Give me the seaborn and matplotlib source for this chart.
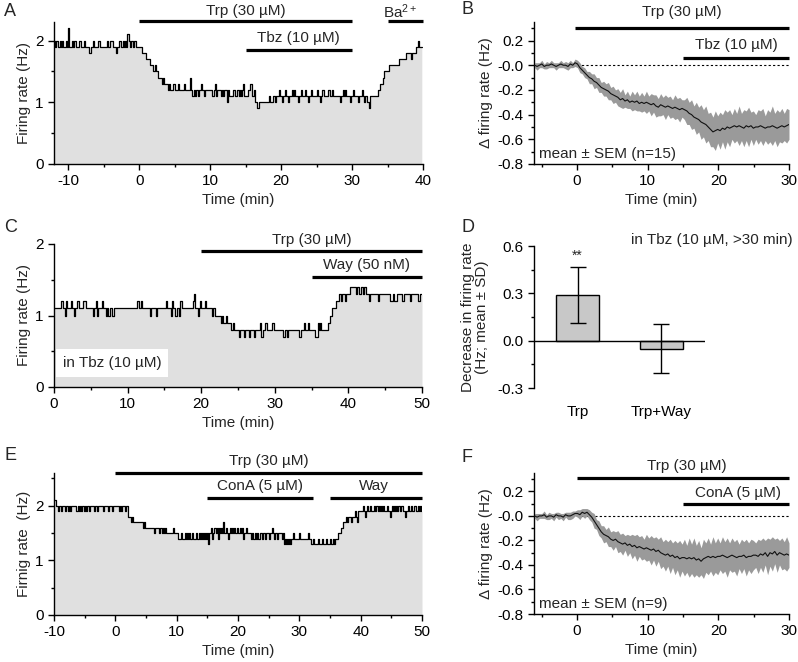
import numpy as np
import pandas as pd
import matplotlib
matplotlib.use("Agg")
import matplotlib.pyplot as plt
import seaborn as sns
from matplotlib.ticker import MultipleLocator, FuncFormatter

# ---- data ----
# firing rate traces, 10 s bins, units of 0.1 Hz, one row per two minutes
rate_a_start = -12
rate_a = [
    20, 19, 20, 19, 19, 20,  19, 20, 19, 19, 20, 19,   # -12
    22, 19, 19, 20, 19, 20,  20, 19, 19, 20, 20, 19,   # -10
    19, 20, 19, 19, 19, 19,  18, 19, 19, 20, 19, 19,   # -8
    19, 20, 20, 19, 19, 19,  19, 19, 19, 20, 19, 20,   # -6
    20, 20, 19, 19, 18, 19,  19, 20, 20, 19, 20, 19,   # -4
    20, 19, 21, 20, 19, 20,  20, 19, 20, 19, 19, 19,   # -2
    19, 19, 18, 18, 18, 18,  17, 17, 17, 16, 16, 16,   # 0
    15, 16, 15, 15, 14, 14,  14, 13, 14, 13, 13, 13,   # 2
    12, 13, 12, 12, 12, 13,  12, 12, 12, 13, 12, 12,   # 4
    12, 12, 13, 12, 12, 12,  12, 14, 12, 11, 12, 11,   # 6
    12, 12, 11, 12, 13, 12,  12, 11, 12, 12, 12, 12,   # 8
    12, 12, 11, 12, 13, 11,  12, 12, 12, 11, 12, 11,   # 10
    12, 12, 10, 12, 11, 11,  11, 12, 12, 11, 11, 12,   # 12
    11, 12, 11, 12, 13, 11,  11, 11, 12, 12, 13, 11,   # 14
    11, 12, 10, 10, 9, 10,   10, 10, 10, 10, 10, 10,   # 16
    10, 10, 11, 10, 10, 11,  11, 10, 11, 11, 12, 11,   # 18
    11, 10, 11, 12, 11, 11,  10, 11, 11, 12, 11, 12,   # 20
    11, 11, 10, 11, 11, 12,  11, 11, 12, 11, 11, 10,   # 22
    11, 12, 11, 11, 11, 11,  12, 11, 11, 10, 11, 12,   # 24
    11, 11, 11, 11, 12, 11,  11, 12, 11, 11, 11, 11,   # 26
    11, 11, 10, 11, 12, 11,  12, 11, 11, 11, 10, 11,   # 28
    11, 12, 11, 11, 11, 10,  11, 11, 12, 11, 10, 11,   # 30
    11, 10, 9, 11, 11, 11,   11, 11, 11, 11, 12, 12,   # 32
    13, 13, 14, 15, 15, 15,  15, 16, 16, 16, 16, 16,   # 34
    16, 16, 16, 16, 17, 17,  17, 17, 17, 17, 18, 18,   # 36
    18, 18, 17, 18, 18, 18,  19, 19, 20, 19, 19,       # 38
]

rate_c_start = 0
rate_c = [
    11, 11, 11, 11, 11, 11,  12, 11, 11, 10, 12, 11,   # 0
    11, 11, 12, 11, 10, 11,  11, 12, 11, 11, 11, 11,   # 2
    12, 12, 11, 11, 11, 11,  11, 11, 10, 11, 12, 10,   # 4
    11, 11, 11, 12, 11, 11,  10, 11, 10, 10, 11, 10,   # 6
    10, 11, 11, 11, 11, 11,  11, 11, 11, 11, 11, 11,   # 8
    11, 11, 11, 11, 11, 11,  11, 11, 12, 11, 11, 12,   # 10
    11, 11, 11, 11, 11, 11,  10, 11, 11, 11, 11, 10,   # 12
    11, 11, 11, 11, 11, 11,  11, 12, 11, 11, 11, 10,   # 14
    12, 11, 11, 10, 11, 11,  10, 12, 11, 11, 11, 11,   # 16
    11, 11, 11, 11, 11, 12,  13, 11, 11, 10, 11, 12,   # 18
    11, 11, 11, 12, 11, 11,  11, 11, 11, 10, 11, 10,   # 20
    10, 10, 10, 10, 9, 10,   9, 9, 10, 9, 9, 9,        # 22
    8, 8, 9, 8, 8, 8,        8, 7, 8, 8, 8, 7,         # 24
    8, 8, 8, 7, 8, 8,        8, 7, 8, 8, 8, 8,         # 26
    9, 7, 8, 8, 9, 9,        8, 8, 8, 8, 9, 8,         # 28
    8, 8, 8, 8, 8, 8,        8, 7, 8, 8, 7, 8,         # 30
    8, 8, 8, 8, 8, 8,        8, 8, 7, 8, 8, 8,         # 32
    9, 8, 8, 9, 8, 8,        8, 8, 8, 7, 7, 9,         # 34
    8, 9, 8, 8, 8, 8,        8, 9, 9, 10, 10, 11,      # 36
    11, 11, 12, 12, 13, 13,  12, 13, 13, 12, 13, 13,   # 38
    13, 14, 14, 14, 14, 14,  13, 14, 14, 13, 14, 14,   # 40
    13, 14, 13, 13, 13, 12,  13, 13, 13, 13, 13, 13,   # 42
    12, 13, 13, 13, 13, 13,  13, 13, 13, 13, 12, 12,   # 44
    13, 12, 12, 12, 13, 13,  13, 13, 12, 13, 13, 13,   # 46
    13, 13, 12, 13, 13, 13,  13, 13, 13, 12, 13, 13,   # 48
]

rate_e_start = -10
rate_e = [
    21, 21, 20, 20, 19, 20,  20, 19, 20, 20, 20, 19,   # -10
    20, 20, 19, 20, 19, 20,  20, 20, 20, 20, 19, 20,   # -8
    19, 20, 19, 20, 20, 19,  20, 19, 20, 20, 19, 20,   # -6
    20, 20, 20, 19, 20, 20,  19, 20, 20, 20, 20, 20,   # -4
    19, 20, 20, 20, 20, 19,  20, 20, 20, 19, 20, 20,   # -2
    20, 20, 20, 20, 19, 20,  19, 20, 20, 19, 20, 20,   # 0
    18, 18, 18, 17, 18, 17,  17, 17, 17, 17, 17, 17,   # 2
    17, 17, 17, 16, 17, 16,  16, 16, 16, 16, 16, 16,   # 4
    16, 16, 15, 16, 16, 16,  16, 15, 16, 16, 15, 16,   # 6
    15, 16, 15, 15, 15, 15,  15, 15, 16, 15, 15, 15,   # 8
    15, 14, 14, 14, 15, 14,  14, 14, 15, 14, 15, 14,   # 10
    15, 14, 14, 15, 14, 14,  14, 15, 14, 14, 15, 14,   # 12
    15, 14, 15, 14, 15, 14,  15, 13, 15, 15, 16, 14,   # 14
    15, 16, 15, 16, 14, 16,  15, 16, 15, 17, 15, 15,   # 16
    16, 15, 14, 15, 16, 15,  16, 15, 16, 15, 15, 16,   # 18
    15, 15, 16, 15, 16, 14,  15, 15, 16, 15, 15, 15,   # 20
    15, 14, 15, 14, 14, 15,  14, 15, 14, 14, 15, 14,   # 22
    15, 15, 14, 15, 15, 15,  14, 15, 15, 16, 15, 14,   # 24
    15, 15, 14, 15, 15, 15,  15, 14, 15, 13, 14, 13,   # 26
    14, 13, 14, 13, 14, 14,  15, 14, 14, 14, 14, 14,   # 28
    15, 14, 14, 14, 14, 14,  14, 14, 15, 14, 14, 13,   # 30
    13, 14, 13, 13, 13, 13,  14, 13, 13, 13, 14, 13,   # 32
    13, 13, 14, 13, 13, 13,  14, 13, 13, 14, 13, 14,   # 34
    14, 14, 15, 15, 15, 16,  16, 17, 17, 17, 18, 17,   # 36
    18, 18, 18, 17, 18, 18,  19, 18, 17, 19, 19, 19,   # 38
    19, 19, 20, 19, 18, 19,  20, 19, 19, 20, 19, 19,   # 40
    19, 20, 19, 20, 20, 19,  20, 19, 20, 19, 20, 19,   # 42
    19, 19, 20, 19, 19, 18,  19, 20, 19, 20, 19, 20,   # 44
    19, 20, 19, 20, 20, 19,  19, 18, 19, 19, 20, 19,   # 46
    19, 20, 19, 19, 20, 20,  19, 19, 20, 19, 20, 19,   # 48
]

# averaged change in firing rate, 20 s bins from -6 to 30 min, units of 0.01 Hz
delta_b_mean = [
    0, -1, 0,   1, -1, 0,   0, 1, 0,   -1, 0, 1,   0, 0, -1,   1, 0, 2,        # -6
    1, -2, -4,   -6, -8, -10,   -11, -13, -14,   -16, -18, -19,                 # 0
    -20, -21, -23,   -24, -25, -26,   -28, -27, -29,   -28, -30, -29,           # 4
    -30, -29, -31,   -30, -31, -30,   -31, -32, -31,   -33, -34, -32,           # 8
    -33, -34, -33,   -34, -35, -34,   -35, -36, -35,   -36, -37, -39,           # 12
    -40, -42, -43,   -44, -46, -47,   -48, -50, -52,   -54, -53, -52,           # 16
    -53, -51, -52,   -50, -51, -50,   -49, -50, -49,   -50, -51, -49,           # 20
    -50, -49, -51,   -50, -50, -49,   -50, -51, -50,   -50, -49, -50,           # 24
    -51, -50, -49,   -50, -49, -48,                                             # 28
]
delta_b_sem = [
    2, 3, 2,   3, 2, 3,   2, 3, 2,   3, 2, 3,   2, 3, 3,   3, 2, 3,
    3, 4, 3,   4, 3, 5,   4, 6, 4,   6, 4, 6,
    5, 7, 5,   7, 5, 7,   6, 8, 5,   7, 5, 8,
    6, 8, 6,   8, 6, 9,   6, 9, 7,   9, 7, 9,
    7, 10, 7,   9, 7, 10,   8, 10, 7,   8, 11, 9,
    12, 9, 13,   10, 14, 11,   15, 11, 14,   12, 16, 11,
    15, 11, 16,   12, 15, 10,   14, 11, 16,   11, 15, 12,
    16, 11, 14,   10, 14, 12,   15, 10, 14,   12, 16, 11,
    15, 12, 14,   11, 14, 12,
]

delta_f_mean = [
    0, -1, 0,   0, 1, -1,   0, 0, -1,   1, 0, 0,   -1, 1, 0,   0, 1, 2,        # -6
    2, 1, 3,   2, 3, 1,   -1, -4, -7,   -10, -13, -15,                         # 0
    -16, -17, -19,   -20, -19, -21,   -22, -23, -22,   -24, -23, -25,           # 4
    -24, -26, -25,   -26, -27, -26,   -27, -28, -27,   -29, -28, -30,           # 8
    -31, -32, -31,   -33, -32, -34,   -33, -35, -34,   -34, -35, -34,           # 12
    -35, -34, -36,   -35, -37, -35,   -34, -33, -34,   -33, -34, -33,           # 16
    -33, -32, -33,   -34, -33, -32,   -33, -34, -33,   -33, -32, -34,           # 20
    -33, -33, -32,   -32, -33, -31,   -32, -30, -33,   -30, -31, -29,           # 24
    -32, -30, -31,   -32, -31, -32,                                             # 28
]
delta_f_sem = [
    2, 3, 2,   2, 3, 2,   3, 2, 3,   2, 3, 2,   3, 2, 3,   3, 3, 2,
    3, 4, 3,   4, 3, 4,   4, 6, 4,   6, 5, 7,
    5, 8, 6,   8, 6, 9,   7, 9, 6,   9, 7, 10,
    8, 11, 8,   10, 8, 11,   9, 12, 9,   12, 9, 13,
    10, 13, 10,   14, 10, 14,   11, 15, 11,   15, 11, 16,
    12, 16, 12,   15, 11, 16,   12, 15, 11,   16, 12, 15,
    11, 15, 12,   16, 11, 14,   12, 15, 10,   14, 11, 15,
    11, 14, 12,   10, 14, 11,   14, 10, 15,   11, 14, 10,
    14, 10, 13,   11, 14, 10,
]

# panel D summary
groups_d = ["Trp", "Trp+Way"]
decrease_d = [0.29, -0.05]
sd_d = [0.175, 0.155]

# ---- style ----
sns.set_style("ticks")
plt.rcParams["font.family"] = ["Liberation Sans", "DejaVu Sans"]
plt.rcParams["axes.unicode_minus"] = False
plt.rcParams["mathtext.default"] = "regular"
plt.rcParams["font.size"] = 11
plt.rcParams["axes.labelsize"] = 11
plt.rcParams["xtick.labelsize"] = 11
plt.rcParams["ytick.labelsize"] = 11
plt.rcParams["axes.linewidth"] = 1.0
plt.rcParams["xtick.major.size"] = 4
plt.rcParams["ytick.major.size"] = 4
plt.rcParams["xtick.minor.size"] = 2.5
plt.rcParams["ytick.minor.size"] = 2.5
plt.rcParams["xtick.color"] = "k"
plt.rcParams["ytick.color"] = "k"
plt.rcParams["axes.edgecolor"] = "k"
plt.rcParams["axes.labelpad"] = 3

W, H = 798, 662
fig = plt.figure(figsize=(W / 100, H / 100), dpi=100)


def px_axes(left, top, right, bottom):
    return fig.add_axes([left / W, 1 - bottom / H, (right - left) / W, (bottom - top) / H])


def rate_panel(ax, start, vals):
    t = start + np.arange(len(vals) + 1) / 6
    r = np.append(vals, vals[-1]) / 10
    df = pd.DataFrame({"t": t, "rate": r})
    ax.fill_between(df["t"], df["rate"], step="post", color="#e0e0e0", lw=0, zorder=1)
    sns.lineplot(data=df, x="t", y="rate", ax=ax, drawstyle="steps-post",
                 color="k", lw=0.9, errorbar=None, sort=False, zorder=2)
    ax.set_xlabel("Time (min)")
    ax.xaxis.set_minor_locator(MultipleLocator(5))
    ax.xaxis.set_major_locator(MultipleLocator(10))
    ax.yaxis.set_major_locator(MultipleLocator(1))
    ax.yaxis.set_minor_locator(MultipleLocator(0.5))


def delta_panel(ax, mean, sem, n):
    t = np.linspace(-6, 30, len(mean))
    m = np.array(mean) / 100
    s = np.array(sem) / 100
    df = pd.DataFrame({"t": t, "mean": m})
    ax.plot([0, 30], [0, 0], ls=(0, (2, 2)), color="k", lw=0.8, zorder=1)
    ax.fill_between(t, m - s, m + s, color="#9a9a9a", lw=0, zorder=2)
    sns.lineplot(data=df, x="t", y="mean", ax=ax, color="#111111", lw=0.8,
                 errorbar=None, zorder=3)
    ax.set_xlim(-6.1, 30)
    ax.set_ylim(-0.8, 0.35)
    ax.set_xlabel("Time (min)")
    ax.set_ylabel("\u0394 firing rate (Hz)")
    ax.xaxis.set_major_locator(MultipleLocator(10))
    ax.xaxis.set_minor_locator(MultipleLocator(5))
    ax.yaxis.set_major_locator(MultipleLocator(0.2))
    ax.yaxis.set_minor_locator(MultipleLocator(0.1))
    ax.yaxis.set_major_formatter(FuncFormatter(lambda v, p: "-0.0" if abs(v) < 1e-9 else f"{v:.1f}"))
    ax.text(-5.4, -0.72, f"mean \u00b1 SEM (n={n})", ha="left", va="center", fontsize=11)


def drug_bar(ax, x0, x1, y, label, ty, tx=None):
    ax.plot([x0, x1], [y, y], color="k", lw=2.3, solid_capstyle="butt", clip_on=False)
    ax.text((x0 + x1) / 2 if tx is None else tx, ty, label, ha="center", va="center",
            fontsize=11, clip_on=False)


def finish(ax):
    sns.despine(ax=ax)
    ax.tick_params(which="both", direction="out", width=1)


# ---- A ----
ax = px_axes(54, 22, 423, 164)
rate_panel(ax, rate_a_start, rate_a)
ax.set_xlim(-12, 40)
ax.set_ylim(0, 2.3)
ax.set_ylabel("Firing rate (Hz)")
drug_bar(ax, 0, 30, 2.31, "Trp (30 \u00b5M)", 2.48)
drug_bar(ax, 15, 30, 1.85, "Tbz (10 \u00b5M)", 2.04)
drug_bar(ax, 35, 40, 2.31, "Ba$^{2+}$", 2.46, tx=36.8)
finish(ax)

# ---- B ----
ax = px_axes(534, 22, 789, 164)
delta_panel(ax, delta_b_mean, delta_b_sem, 15)
drug_bar(ax, -0.3, 30, 0.30, "Trp (30 \u00b5M)", 0.43)
drug_bar(ax, 15, 30, 0.055, "Tbz (10 \u00b5M)", 0.165)
finish(ax)

# ---- C ----
ax = px_axes(54, 244, 422, 387)
rate_panel(ax, rate_c_start, rate_c)
ax.set_xlim(0, 50)
ax.set_ylim(0, 2)
ax.set_ylabel("Firing rate (Hz)")
drug_bar(ax, 20, 50, 1.90, "Trp (30 \u00b5M)", 2.06)
drug_bar(ax, 35, 50, 1.54, "Way (50 nM)", 1.71)
ax.text(1.2, 0.34, "in Tbz (10 \u00b5M)", ha="left", va="center", fontsize=11,
        bbox=dict(facecolor="white", edgecolor="none", boxstyle="square,pad=0.45"), zorder=4)
finish(ax)

# ---- D ----
ax = px_axes(534, 246, 705, 388)
sns.barplot(x=groups_d, y=decrease_d, ax=ax, color="#c8c8c8", saturation=1,
            edgecolor="k", linewidth=1, width=0.51, errorbar=None, zorder=2)
ax.errorbar([0, 1], decrease_d, yerr=sd_d, fmt="none", ecolor="k",
            elinewidth=1, capsize=5.5, capthick=1, zorder=3)
ax.axhline(0, color="k", lw=1, zorder=4)
ax.set_xlim(-0.52, 1.52)
ax.set_ylim(-0.3, 0.6)
ax.yaxis.set_major_locator(MultipleLocator(0.3))
ax.yaxis.set_minor_locator(MultipleLocator(0.15))
ax.yaxis.set_major_formatter(FuncFormatter(lambda v, p: f"{v:.1f}"))
ax.set_ylabel("Decrease in firing rate\n(Hz; mean \u00b1 SD)", linespacing=1.05, labelpad=6)
ax.text(0, 0.535, "**", ha="center", va="center", fontsize=10)
ax.text(2.56, 0.64, "in Tbz (10 \u00b5M, >30 min)", ha="right", va="center",
        fontsize=11, clip_on=False)
finish(ax)
ax.spines["bottom"].set_visible(False)
ax.tick_params(axis="x", length=0, pad=12)

# ---- E ----
ax = px_axes(54, 473, 422, 615)
rate_panel(ax, rate_e_start, rate_e)
ax.set_xlim(-10, 50)
ax.set_ylim(0, 2.6)
ax.set_ylabel("Firnig rate  (Hz)")
drug_bar(ax, 0, 50, 2.6, "Trp (30 \u00b5M)", 2.82)
drug_bar(ax, 15, 32.2, 2.15, "ConA (5 \u00b5M)", 2.36)
drug_bar(ax, 35, 50, 2.15, "Way", 2.36, tx=42.2)
finish(ax)

# ---- F ----
ax = px_axes(534, 473, 789, 614)
delta_panel(ax, delta_f_mean, delta_f_sem, 9)
drug_bar(ax, 0, 30, 0.307, "Trp (30 \u00b5M)", 0.41, tx=15.5)
drug_bar(ax, 15, 30, 0.10, "ConA (5 \u00b5M)", 0.19, tx=22.8)
finish(ax)

# panel letters
for letter, x, y in [("A", 4, 12), ("B", 461, 10), ("C", 4, 228),
                     ("D", 461, 228), ("E", 4, 456), ("F", 461, 458)]:
    fig.text(x / W, 1 - y / H, letter, fontsize=13, ha="left", va="center")

fig.savefig("out.png", dpi=100)
